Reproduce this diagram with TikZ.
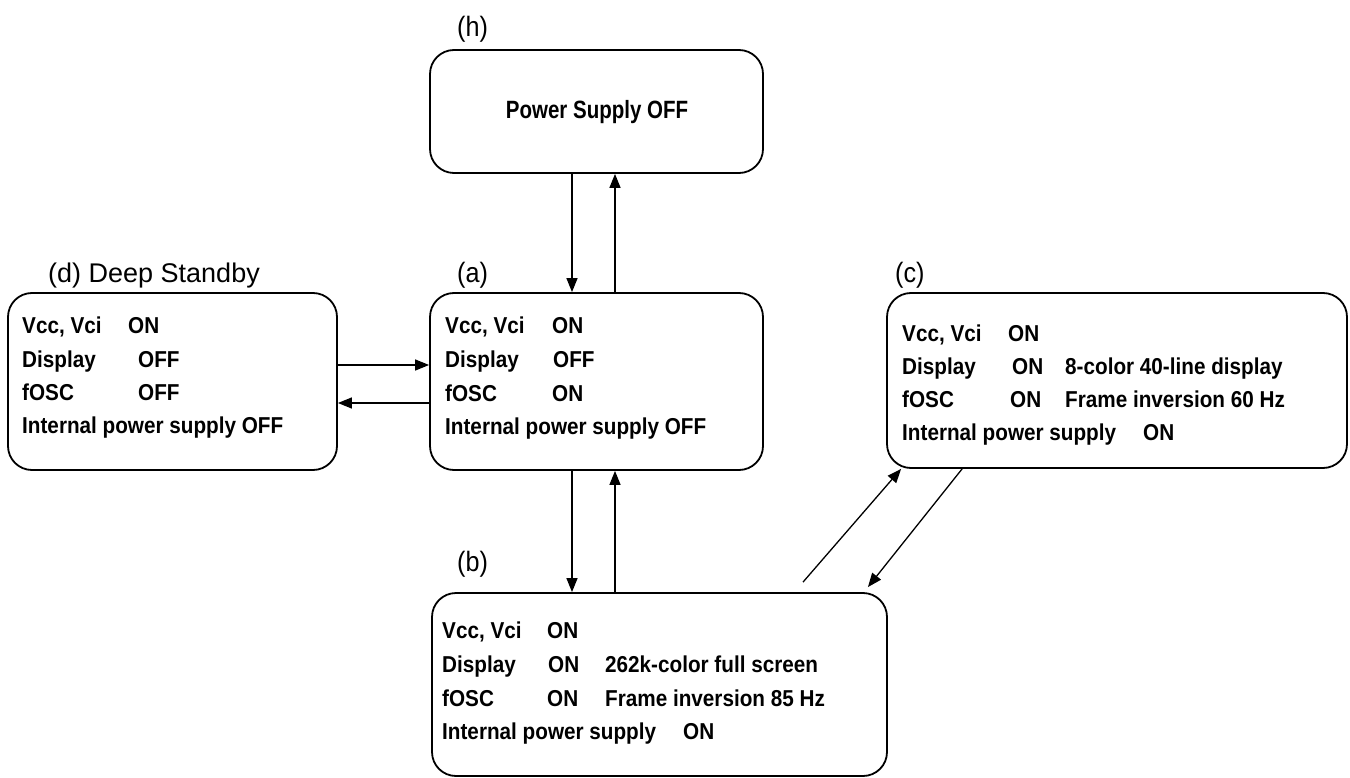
\documentclass[tikz,border=0pt]{standalone}
\usepackage{fontspec}
\setmainfont{Liberation Sans}
\newfontfamily\condB[FakeStretch=0.9]{Liberation Sans Bold}
\newfontfamily\condC[FakeStretch=0.82]{Liberation Sans Bold}
\newfontfamily\condR[FakeStretch=0.9]{Liberation Sans}
\usetikzlibrary{arrows.meta}
\begin{document}
\begin{tikzpicture}[x=1pt,y=-1pt,
  box/.style={draw, line width=1.8pt, rounded corners=24pt, inner sep=0pt},
  txt/.style={anchor=base west, inner sep=0pt, font=\fontsize{23}{23}\condB},
  lbl/.style={anchor=base west, inner sep=0pt, font=\fontsize{28}{28}\condR},
  arr/.style={line width=1.3pt, -{Triangle[length=14pt,width=11pt]}}]
\useasboundingbox (0,0) rectangle (1350,778);
% boxes
\node[box, minimum width=333pt, minimum height=123pt] (h) at (596.5,111.5) {};
\node[box, minimum width=329pt, minimum height=177pt] (d) at (172.5,381.5) {};
\node[box, minimum width=333pt, minimum height=177pt] (a) at (596.5,381.5) {};
\node[box, minimum width=455pt, minimum height=183pt] (b) at (659.5,684.5) {};
\node[box, minimum width=460pt, minimum height=175pt] (c) at (1117,380.5) {};
% labels
\node[lbl] (lh) at (457,37) {(h)};
\node[lbl, font=\fontsize{27}{27}\selectfont] (ld) at (48,283) {(d) Deep Standby};
\node[lbl] (la) at (457,283) {(a)};
\node[lbl] (lc) at (895,283) {(c)};
\node[lbl] (lb) at (457,571) {(b)};
% h text
\node[font=\fontsize{25}{25}\condC, inner sep=0pt] (th) at (597,112) {Power Supply OFF};
% d text
\node[txt] (d1) at (22,333) {Vcc, Vci};   \node[txt] (d1v) at (128,333) {ON};
\node[txt] (d2) at (22,367) {Display};    \node[txt] (d2v) at (138,367) {OFF};
\node[txt] (d3) at (22,400) {fOSC};       \node[txt] (d3v) at (138,400) {OFF};
\node[txt] (d4) at (22,433) {Internal power supply OFF};
% a text
\node[txt] (a1) at (445,333) {Vcc, Vci};  \node[txt] (a1v) at (552,333) {ON};
\node[txt] (a2) at (445,367) {Display};   \node[txt] (a2v) at (553,367) {OFF};
\node[txt] (a3) at (445,401) {fOSC};      \node[txt] (a3v) at (552,401) {ON};
\node[txt] (a4) at (445,434) {Internal power supply OFF};
% b text
\node[txt] (b1) at (442,638) {Vcc, Vci};  \node[txt] (b1v) at (547,638) {ON};
\node[txt] (b2) at (442,672) {Display};   \node[txt] (b2v) at (548,672) {ON};
\node[txt] (b2d) at (605,672) {262k-color full screen};
\node[txt] (b3) at (442,706) {fOSC};      \node[txt] (b3v) at (547,706) {ON};
\node[txt] (b3d) at (605,706) {Frame inversion 85 Hz};
\node[txt] (b4) at (442,739) {Internal power supply};  \node[txt] (b4v) at (683,739) {ON};
% c text
\node[txt] (c1) at (902,341) {Vcc, Vci};  \node[txt] (c1v) at (1008,341) {ON};
\node[txt] (c2) at (902,374) {Display};   \node[txt] (c2v) at (1012,374) {ON};
\node[txt] (c2d) at (1065,374) {8-color 40-line display};
\node[txt] (c3) at (902,407) {fOSC};      \node[txt] (c3v) at (1010,407) {ON};
\node[txt] (c3d) at (1065,407) {Frame inversion 60 Hz};
\node[txt] (c4) at (902,440) {Internal power supply};  \node[txt] (c4v) at (1143,440) {ON};
% connectors h <-> a
\draw[arr] ([xshift=-24.5pt]h.south) -- ([xshift=-24.5pt]h.south |- a.north);
\draw[arr] ([xshift=18.5pt]a.north) -- ([xshift=18.5pt]a.north |- h.south);
% d <-> a
\draw[arr] ([yshift=16.5pt]d.east) -- ([yshift=16.5pt]d.east -| a.west);
\draw[arr] ([yshift=-21.5pt]a.west) -- ([yshift=-21.5pt]a.west -| d.east);
% a <-> b
\draw[arr] ([xshift=-24.5pt]a.south) -- ([xshift=-24.5pt]a.south |- b.north);
\draw[arr] ([xshift=-44.5pt]b.north) -- ([xshift=-44.5pt]b.north |- a.south);
% b <-> c
\draw[arr] ([shift={(143.5pt,10pt)}]b.north) -- ([xshift=15pt]c.south west);
\draw[arr] ([xshift=76pt]c.south west) -- ([shift={(-20pt,5pt)}]b.north east);
\end{tikzpicture}
\end{document}
